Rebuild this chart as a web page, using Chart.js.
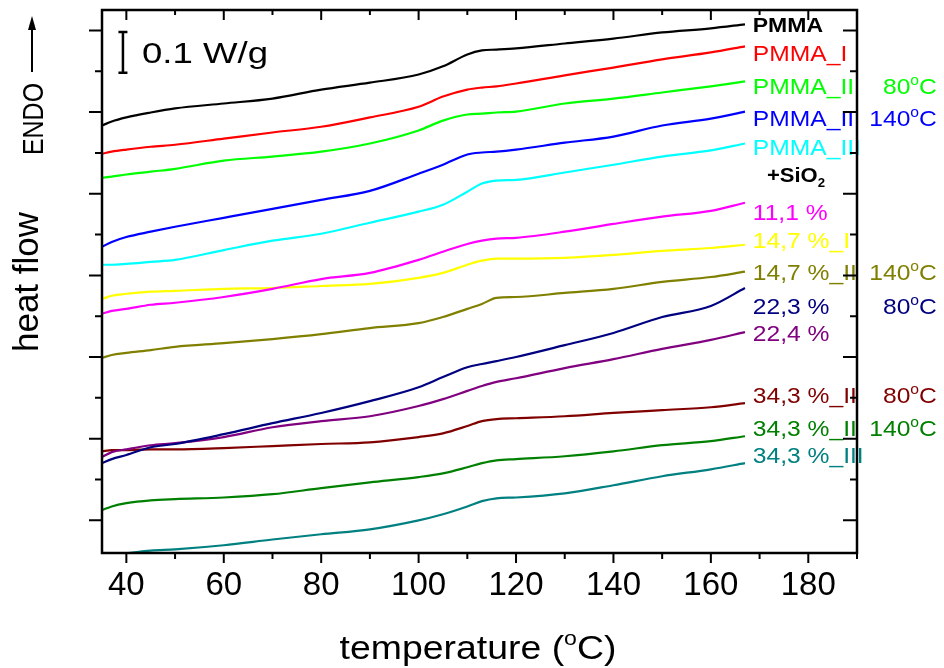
<!DOCTYPE html>
<html>
<head>
<meta charset="utf-8">
<script src="https://cdn.jsdelivr.net/npm/chart.js@4.4.1/dist/chart.umd.min.js"></script>
<style>
  html, body { margin: 0; padding: 0; background: #fff; }
  #chart { display: block; }
</style>
</head>
<body>
<canvas id="chart" width="944" height="668"></canvas>
<script>
const FONT = "Arial, 'Liberation Sans', sans-serif";

// temperature (°C) at which every curve was read
const temperatures = [35, 37, 40, 45, 50, 60, 70, 80, 90, 100, 105, 110, 113, 116, 120, 130, 140, 150, 160, 167];

// heat flow, W/g (curves shifted vertically)
const pmma      = [0.967, 0.977, 0.987, 0.999, 1.009, 1.021, 1.033, 1.055, 1.072, 1.092, 1.112, 1.141, 1.151, 1.153, 1.156, 1.168, 1.180, 1.195, 1.205, 1.215];
const pmmaI     = [0.898, 0.903, 0.908, 0.915, 0.920, 0.935, 0.950, 0.964, 0.987, 1.013, 1.038, 1.055, 1.060, 1.063, 1.070, 1.090, 1.109, 1.129, 1.146, 1.161];
const pmmaII80  = [0.839, 0.842, 0.847, 0.854, 0.861, 0.881, 0.891, 0.903, 0.923, 0.955, 0.979, 0.994, 0.996, 0.999, 1.001, 1.021, 1.033, 1.048, 1.063, 1.075];
const pmmaII140 = [0.670, 0.682, 0.694, 0.707, 0.719, 0.741, 0.763, 0.785, 0.807, 0.849, 0.871, 0.896, 0.901, 0.903, 0.908, 0.925, 0.940, 0.967, 0.984, 1.001];
const pmmaIII   = [0.626, 0.626, 0.628, 0.633, 0.638, 0.662, 0.685, 0.702, 0.729, 0.756, 0.773, 0.805, 0.825, 0.832, 0.834, 0.852, 0.871, 0.891, 0.906, 0.923];
const si111     = [0.506, 0.513, 0.518, 0.528, 0.533, 0.547, 0.567, 0.591, 0.606, 0.638, 0.658, 0.677, 0.685, 0.690, 0.692, 0.707, 0.726, 0.744, 0.758, 0.778];
const si147I    = [0.542, 0.550, 0.555, 0.560, 0.562, 0.567, 0.569, 0.574, 0.579, 0.594, 0.606, 0.626, 0.636, 0.641, 0.641, 0.643, 0.650, 0.660, 0.667, 0.675];
const si147II   = [0.398, 0.405, 0.410, 0.417, 0.425, 0.434, 0.444, 0.456, 0.471, 0.483, 0.498, 0.518, 0.530, 0.545, 0.547, 0.557, 0.567, 0.584, 0.596, 0.609];
const si223     = [0.140, 0.150, 0.160, 0.179, 0.187, 0.211, 0.238, 0.263, 0.292, 0.326, 0.351, 0.375, 0.383, 0.390, 0.400, 0.429, 0.459, 0.498, 0.525, 0.569];
const si224     = [0.155, 0.167, 0.174, 0.184, 0.189, 0.204, 0.228, 0.243, 0.255, 0.280, 0.297, 0.317, 0.329, 0.339, 0.348, 0.373, 0.395, 0.420, 0.442, 0.461];
const si343II80 = [0.169, 0.172, 0.172, 0.174, 0.174, 0.177, 0.182, 0.187, 0.191, 0.204, 0.213, 0.231, 0.243, 0.248, 0.250, 0.255, 0.263, 0.270, 0.277, 0.287];
const si343II140= [0.025, 0.034, 0.042, 0.049, 0.052, 0.056, 0.064, 0.079, 0.093, 0.106, 0.115, 0.130, 0.140, 0.147, 0.150, 0.157, 0.169, 0.184, 0.194, 0.206];
const si343III  = [-0.088, -0.086, -0.081, -0.074, -0.071, -0.061, -0.047, -0.034, -0.022, 0.000, 0.015, 0.034, 0.047, 0.054, 0.056, 0.066, 0.086, 0.108, 0.125, 0.140];

const seriesValues = [pmma, pmmaI, pmmaII80, pmmaII140, pmmaIII, si111, si147I, si147II, si223, si224, si343II80, si343II140, si343III];
const seriesNames  = ['PMMA', 'PMMA_I', 'PMMA_II', 'PMMA_II', 'PMMA_III', '11,1 %', '14,7 %_I', '14,7 %_II', '22,3 %', '22,4 %', '34,3 %_II', '34,3 %_II', '34,3 %_III'];
const annealTemps  = ['', '', '80', '140', '', '', '', '140', '80', '', '80', '140', ''];
const seriesColors = ['#000000', '#ff0000', '#00ff00', '#0000ff', '#00ffff', '#ff00ff', '#ffff00', '#808000', '#000080', '#800080', '#800000', '#008000', '#008080'];
// heat-flow level at which each name is written
const labelLevels  = [1.213, 1.145, 1.064, 0.985, 0.914, 0.755, 0.687, 0.608, 0.525, 0.459, 0.307, 0.226, 0.160];

const xTickValues = [40, 50, 60, 70, 80, 90, 100, 110, 120, 130, 140, 150, 160, 170, 180, 190];
const xLabelTicks = [40, 60, 80, 100, 120, 140, 160, 180];

function drawRich(ctx, parts, x, y, o) {
  const size = o.size, weight = o.weight || 'normal', sx = o.sx || 1;
  const pieces = parts.map(([t, kind]) => {
    const s = kind ? Math.round(size * 0.62) : size;
    ctx.font = `${weight} ${s}px ${FONT}`;
    return { t, kind, s, w: ctx.measureText(t).width };
  });
  const total = pieces.reduce((a, p) => a + p.w, 0);
  ctx.save();
  ctx.translate(x, y);
  if (o.rotate) ctx.rotate(o.rotate);
  ctx.scale(sx, 1);
  let cx = o.align === 'right' ? -total : o.align === 'center' ? -total / 2 : 0;
  ctx.fillStyle = o.color || '#000';
  ctx.textBaseline = 'alphabetic';
  ctx.textAlign = 'left';
  for (const p of pieces) {
    ctx.font = `${weight} ${p.s}px ${FONT}`;
    const dy = p.kind === 'sup' ? -size * 0.42 : p.kind === 'sub' ? size * 0.25 : 0;
    ctx.fillText(p.t, cx, dy);
    cx += p.w;
  }
  ctx.restore();
}

const decorations = {
  id: 'decorations',
  afterDatasetsDraw(chart) {
    const { ctx, chartArea: a, scales: { x, y } } = chart;

    // curve names on the right
    const nameX = x.getPixelForValue(168.6);
    const tempX = x.getPixelForValue(206.4);
    seriesNames.forEach((name, i) => {
      const cy = y.getPixelForValue(labelLevels[i]);
      const bold = i === 0;
      const size = bold ? 20 : 22;
      drawRich(ctx, [[name]], nameX, cy + size * 0.36, { size, weight: bold ? 'bold' : 'normal', sx: bold ? 1.15 : 1.12, color: seriesColors[i] });
      if (annealTemps[i]) {
        drawRich(ctx, [[annealTemps[i]], ['o', 'sup'], ['C']], tempX, cy + size * 0.36, { size, sx: 1.12, color: seriesColors[i], align: 'right' });
      }
    });
    drawRich(ctx, [['+SiO'], ['2', 'sub']], x.getPixelForValue(171.5), y.getPixelForValue(0.846) + 7, { size: 20, weight: 'bold', sx: 1.1 });

    // 0.1 W/g scale bar
    ctx.save();
    ctx.strokeStyle = '#000';
    ctx.lineWidth = 2.5;
    const bx = x.getPixelForValue(39.3);
    const by1 = y.getPixelForValue(1.196), by2 = y.getPixelForValue(1.096);
    ctx.beginPath();
    ctx.moveTo(bx, by1); ctx.lineTo(bx, by2);
    ctx.moveTo(bx - 4.5, by1); ctx.lineTo(bx + 4.5, by1);
    ctx.moveTo(bx - 4.5, by2); ctx.lineTo(bx + 4.5, by2);
    ctx.stroke();
    ctx.restore();
    drawRich(ctx, [['0.1 W/g']], x.getPixelForValue(43.2), y.getPixelForValue(1.12), { size: 30, sx: 1.22 });

    // frame with ticks (outside bottom/left, inside top/right)
    ctx.save();
    ctx.strokeStyle = '#000';
    ctx.lineWidth = 2.5;
    ctx.strokeRect(a.left, a.top, a.right - a.left, a.bottom - a.top);
    ctx.lineWidth = 2;
    ctx.beginPath();
    xTickValues.forEach(t => {
      const px = x.getPixelForValue(t), major = xLabelTicks.includes(t);
      ctx.moveTo(px, a.bottom); ctx.lineTo(px, a.bottom + (major ? 10 : 6));
      ctx.moveTo(px, a.top); ctx.lineTo(px, a.top + (major ? 10 : 5));
    });
    for (let k = 0; k <= 12; k++) {
      const py = y.getPixelForValue(k / 10), major = k % 2 === 0;
      ctx.moveTo(a.left, py); ctx.lineTo(a.left - (major ? 13 : 7), py);
      ctx.moveTo(a.right, py); ctx.lineTo(a.right - (major ? 14 : 7), py);
    }
    ctx.stroke();

    // ENDO arrow
    ctx.lineWidth = 2;
    ctx.beginPath();
    ctx.moveTo(32, 72); ctx.lineTo(32, 26);
    ctx.stroke();
    ctx.fillStyle = '#000';
    ctx.beginPath();
    ctx.moveTo(32, 16); ctx.lineTo(28, 30); ctx.lineTo(36, 30); ctx.closePath();
    ctx.fill();
    ctx.restore();

    // axis titles
    drawRich(ctx, [['ENDO']], 43, 119, { size: 29, sx: 0.86, rotate: -Math.PI / 2, align: 'center' });
    drawRich(ctx, [['heat flow']], 38, 282, { size: 35, rotate: -Math.PI / 2, align: 'center' });
    drawRich(ctx, [['temperature ('], ['o', 'sup'], ['C)']], 478, 659, { size: 34, sx: 1.1, align: 'center' });
  }
};

new Chart(document.getElementById('chart'), {
  type: 'line',
  data: {
    datasets: seriesValues.map((vals, i) => ({
      label: seriesNames[i] + (annealTemps[i] ? ' ' + annealTemps[i] + '°C' : ''),
      data: temperatures.map((t, j) => ({ x: t, y: vals[j] })),
      borderColor: seriesColors[i],
      borderWidth: 2.2,
      pointRadius: 0,
      cubicInterpolationMode: 'monotone',
      fill: false
    }))
  },
  options: {
    responsive: false,
    animation: false,
    devicePixelRatio: 1,
    layout: { padding: { top: 10, right: 87, left: 0, bottom: 0 } },
    plugins: {
      legend: { display: false },
      tooltip: { enabled: false }
    },
    scales: {
      x: {
        type: 'linear',
        min: 35,
        max: 190,
        afterBuildTicks: s => { s.ticks = xTickValues.map(v => ({ value: v })); },
        ticks: {
          autoSkip: false,
          maxRotation: 0,
          padding: 13,
          color: '#000',
          font: { size: 33, family: FONT },
          callback: v => xLabelTicks.includes(v) ? String(v) : ''
        },
        grid: { display: false, drawTicks: false },
        border: { display: false },
        afterFit: s => { s.height = 115; }
      },
      y: {
        type: 'linear',
        min: -0.08,
        max: 1.25,
        ticks: { display: false },
        grid: { display: false, drawTicks: false },
        border: { display: false },
        afterFit: s => { s.width = 102; }
      }
    }
  },
  plugins: [decorations]
});
</script>
</body>
</html>
